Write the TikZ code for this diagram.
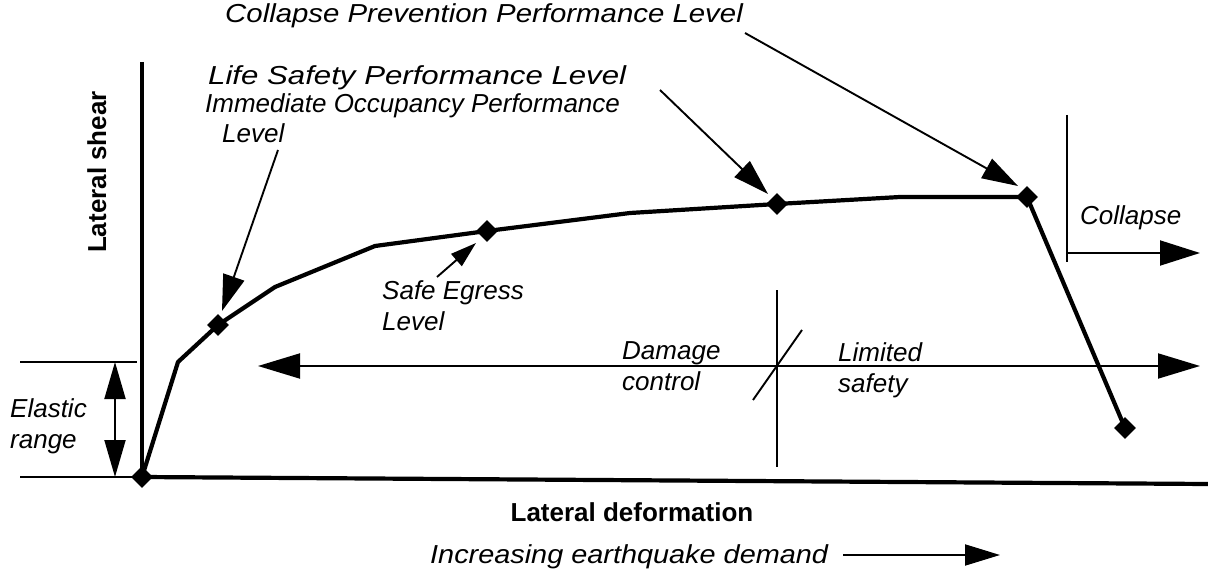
\documentclass[tikz,border=0pt]{standalone}
\usepackage{fontspec}
\setmainfont{Liberation Sans}
\usetikzlibrary{arrows.meta}
\begin{document}
\begin{tikzpicture}[x=1pt,y=-1pt,
  txt/.style={font=\fontsize{26}{31}\selectfont\itshape, inner sep=0pt, anchor=base west, align=left},
  boldtxt/.style={font=\fontsize{26}{31}\selectfont\bfseries, inner sep=0pt},
  marker/.style={rectangle, rotate=45, fill=black, minimum size=15.5pt, inner sep=0pt},
  curve/.style={line width=4.2pt, line join=round},
  thin/.style={line width=1.9pt},
  tip/.style={-{Triangle[length=36pt,width=22pt]}},
  bigtip/.style={{Triangle[length=42pt,width=25pt]}-{Triangle[length=42pt,width=25pt]}},
]
\useasboundingbox (0,0) rectangle (1208,575);

% axes
\draw[line width=4pt] (142,62) coordinate (ytop) -- (142,477) coordinate (org);
\coordinate (xend) at (1208,484);
\coordinate (xleft) at (20,477);
\draw[line width=2pt] (xleft) -- (org);
\draw[line width=4.2pt] (org) -- (xend);

% elastic range
\coordinate (elTopL) at (20,362);
\coordinate (elTopR) at (137,362);
\draw[line width=2pt] (elTopL) -- (elTopR);
\coordinate (elA) at (115,362);
\coordinate (elB) at (115,477);
\draw[thin, {Triangle[length=37pt,width=21pt]}-{Triangle[length=37pt,width=21pt]}] (elA) -- (elB);
\node[txt] (elastic) at (10,448) {Elastic\\range};

% capacity curve
\coordinate (k1) at (178,362);
\coordinate (k2) at (275,287);
\coordinate (k3) at (375,246);
\coordinate (k4) at (630,213);
\coordinate (k5) at (900,197);
\draw[curve] (org) -- (k1) -- (218,325) -- (k2) -- (k3) -- (487,231) -- (k4) -- (777,204) -- (k5) -- (1027,197) -- (1125,428);

\node[marker] (m0) at (org) {};
\node[marker] (io) at (218,325) {};
\node[marker] (se) at (487,231) {};
\node[marker] (ls) at (777,204) {};
\node[marker] (cp) at (1027,197) {};
\node[marker] (end) at (1125,428) {};

% performance level labels
\node[txt] (cpl) at (225,23) {\scalebox{1.13}[1]{Collapse Prevention Performance Level}};
\node[txt] (lsl) at (208,85) {\scalebox{1.2}[1]{Life Safety Performance Level}};
\node[txt] (iol) at (205,143) {Immediate Occupancy Performance\\\hspace*{17pt}Level};
\node[txt] (sel) at (382,330) {Safe Egress\\Level};

\coordinate (cpTail) at (745,33);
\coordinate (lsTail) at (660,90);
\coordinate (ioTail) at (278,150);
\coordinate (seTail) at (437,277);
\draw[thin, tip] (cpTail) -- (1018,186);
\draw[thin, tip] (lsTail) -- (768,194);
\draw[thin, tip] (ioTail) -- (222,311);
\draw[thin, -{Triangle[length=26pt,width=16pt]}] (seTail) -- (476,243);

% collapse zone
\coordinate (colTop) at (1067,115);
\coordinate (colBot) at (1067,262);
\draw[thin] (colTop) -- (colBot);
\coordinate (colEnd) at (1200,253);
\draw[thin, -{Triangle[length=40pt,width=25pt]}] (1067,253) -- (colEnd);
\node[txt] (collapse) at (1080,224) {Collapse};

% damage control / limited safety
\coordinate (dcL) at (258,366);
\coordinate (dcR) at (1200,366);
\draw[thin, bigtip] (dcL) -- (dcR);
\coordinate (divTop) at (777,290);
\coordinate (divBot) at (777,467);
\draw[thin] (divTop) -- (divBot);
\coordinate (slA) at (753,400);
\coordinate (slB) at (802,330);
\draw[thin] (slA) -- (slB);
\node[txt] (dc) at (622,390) {Damage\\control};
\node[txt] (lim) at (838,392) {Limited\\safety};

% axis titles
\node[boldtxt, anchor=base] (xlab) at (632,521) {Lateral deformation};
\node[boldtxt, anchor=base, rotate=90] (ylab) at (106,172) {Lateral shear};

% demand
\node[txt] (dem) at (430,563) {\scalebox{1.11}[1]{Increasing earthquake demand}};
\coordinate (demA) at (843,555);
\coordinate (demB) at (1000,555);
\draw[thin, -{Triangle[length=35pt,width=21pt]}] (demA) -- (demB);
\end{tikzpicture}
\end{document}
